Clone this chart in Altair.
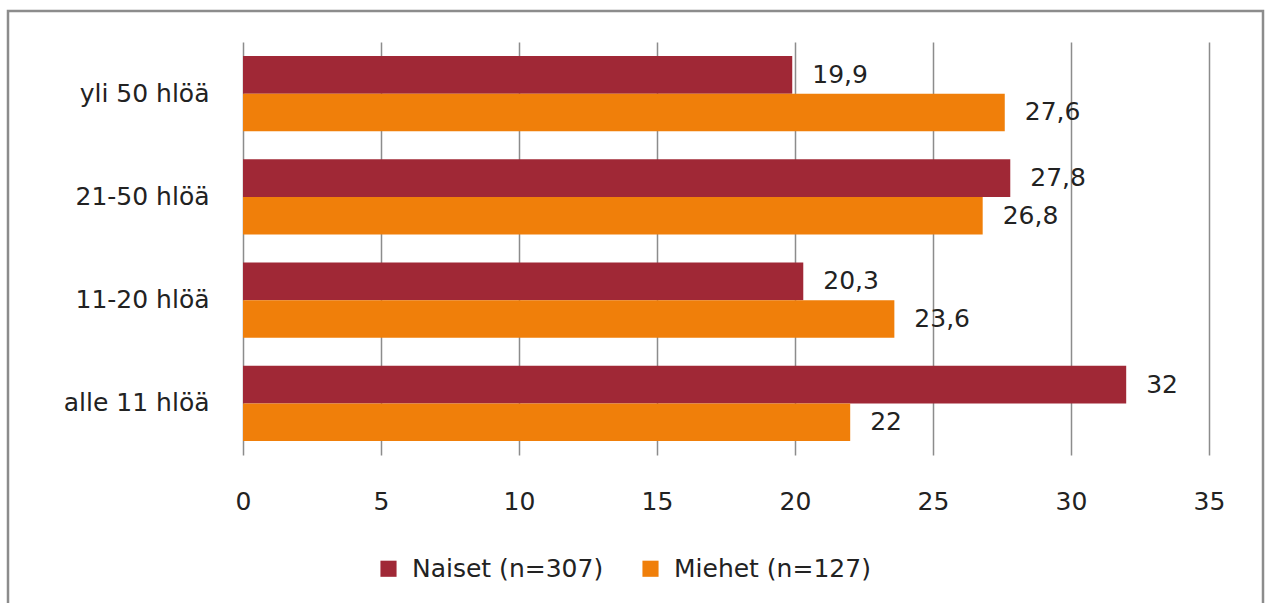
import altair as alt
import pandas as pd

categories = ["yli 50 hlöä", "21-50 hlöä", "11-20 hlöä", "alle 11 hlöä"]
series = ["Naiset (n=307)", "Miehet (n=127)"]
naiset = [19.9, 27.8, 20.3, 32]
miehet = [27.6, 26.8, 23.6, 22]
naiset_labels = ["19,9", "27,8", "20,3", "32"]
miehet_labels = ["27,6", "26,8", "23,6", "22"]
colors = ["#A02836", "#F07F0A"]
ticks = [0, 5, 10, 15, 20, 25, 30, 35]

rows = []
for i, c in enumerate(categories):
    rows.append({"cat": c, "series": series[0], "value": naiset[i], "label": naiset_labels[i]})
    rows.append({"cat": c, "series": series[1], "value": miehet[i], "label": miehet_labels[i]})
df = pd.DataFrame(rows)

FONT = "DejaVu Sans"
FS = 25

y_enc = alt.Y("cat:N", sort=categories, scale=alt.Scale(paddingInner=0.27, paddingOuter=0.135),
              axis=alt.Axis(title=None, labelFontSize=FS, labelFont=FONT, labelColor="#222222",
                            labelPadding=34, ticks=False, domain=False))
yoff = alt.YOffset("series:N", sort=series)
x_enc = alt.X("value:Q", scale=alt.Scale(domain=[0, 35], nice=False),
              axis=alt.Axis(title=None, values=ticks, labelFontSize=FS, labelFont=FONT,
                            labelColor="#222222", labelPadding=34, ticks=False, domain=False,
                            labelFlush=False,
                            grid=True, gridColor="#8c8c8c", gridWidth=1.5))

bars = alt.Chart(df).mark_bar().encode(
    x=x_enc,
    y=y_enc,
    yOffset=yoff,
    color=alt.Color("series:N", sort=series, scale=alt.Scale(domain=series, range=colors),
                    legend=alt.Legend(title=None, orient="none", direction="horizontal",
                                      legendX=133, legendY=514, symbolType="square",
                                      symbolSize=260, symbolStrokeWidth=0, labelFontSize=FS,
                                      labelFont=FONT, labelColor="#222222", columnPadding=34,
                                      labelOffset=11, labelLimit=400)),
)

text = alt.Chart(df).mark_text(align="left", baseline="middle", dx=20, fontSize=FS,
                               font=FONT, color="#222222").encode(
    x="value:Q",
    y=alt.Y("cat:N", sort=categories),
    yOffset=yoff,
    text="label:N",
)

border = alt.Chart(pd.DataFrame({"a": [0]})).mark_rect(
    fill=None, stroke="#8c8c8c", strokeWidth=2.5, clip=False
).encode(x=alt.value(-235), x2=alt.value(1020), y=alt.value(-31), y2=alt.value(570))

chart = alt.layer(border, bars, text).properties(
    width=966, height=413,
    autosize=alt.AutoSizeParams(type="none"),
    padding={"left": 243, "top": 42, "right": 56, "bottom": 148},
    background="white",
).configure_view(stroke=None)

chart.save("out.html", embed_options={"renderer": "svg", "actions": False})
